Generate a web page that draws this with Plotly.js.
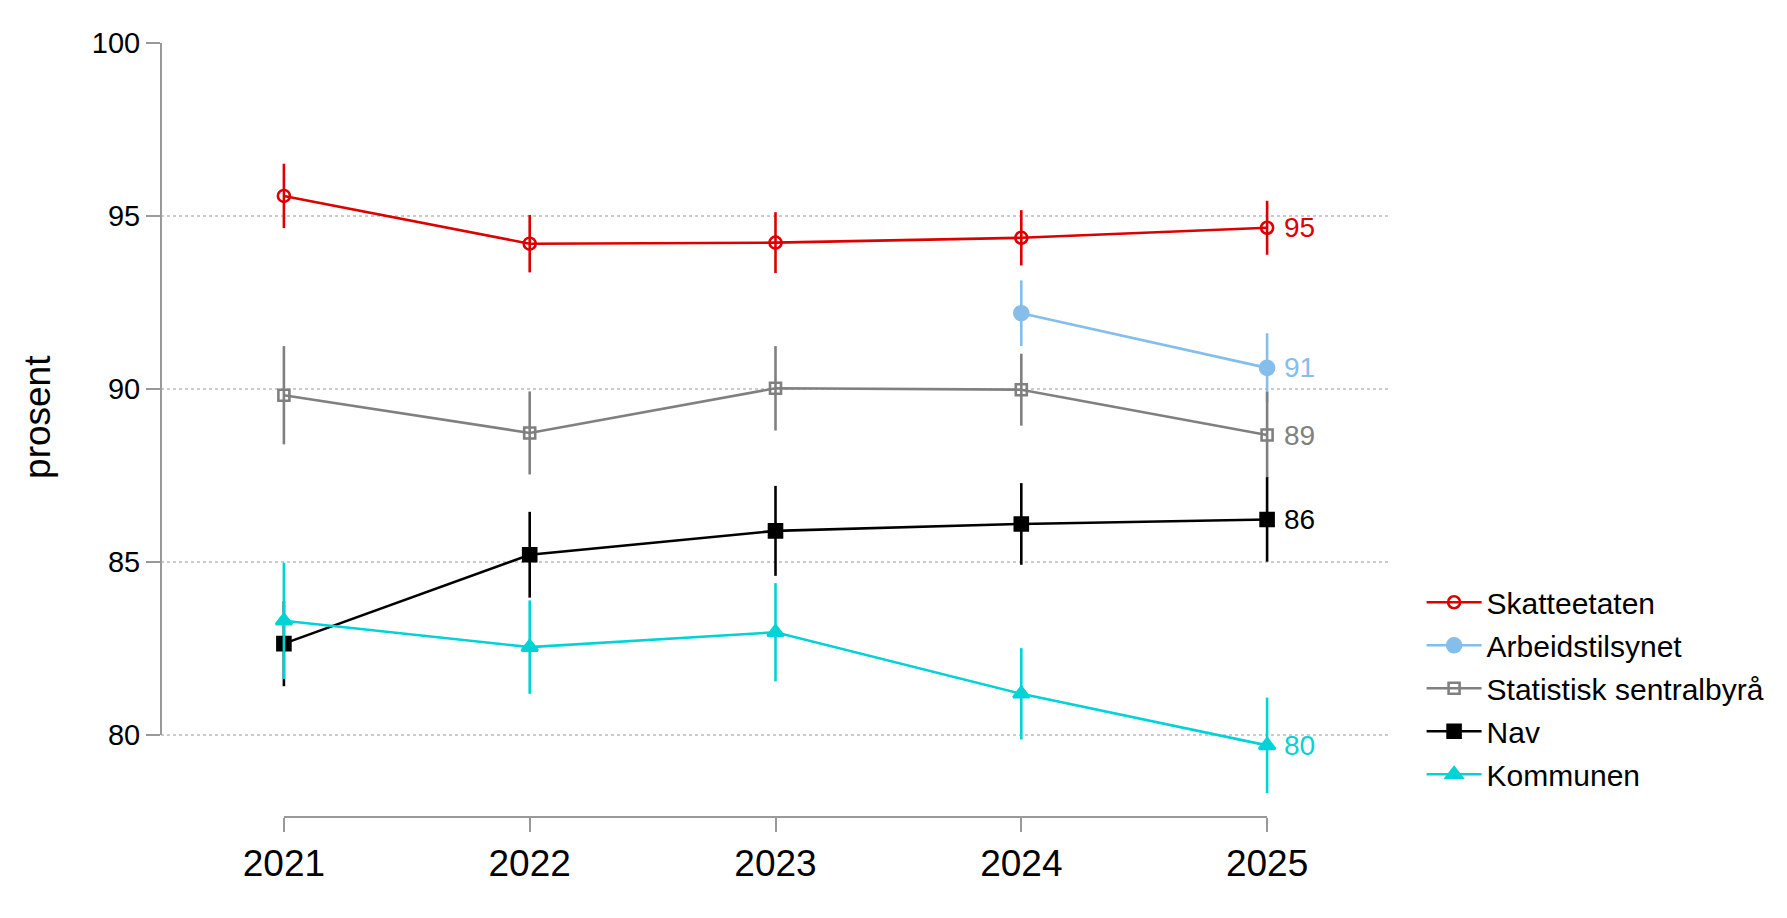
<!DOCTYPE html>
<html>
<head>
<meta charset="utf-8">
<script src="https://cdn.plot.ly/plotly-3.0.1.min.js"></script>
<style>html,body{margin:0;padding:0;background:#fff;}#chart{width:1787px;height:918px;}</style>
</head>
<body>
<div id="chart"></div>
<script>
const years = [2021, 2022, 2023, 2024, 2025];
const seriesNames = ["Skatteetaten", "Arbeidstilsynet", "Statistisk sentralbyrå", "Nav", "Kommunen"];
const skatteetaten = [95.58, 94.20, 94.23, 94.37, 94.66];
const skatteetatenErr = [0.93, 0.83, 0.88, 0.80, 0.78];
const arbeidstilsynet = [null, null, null, 92.19, 90.61];
const arbeidstilsynetErr = [null, null, null, 0.95, 1.00];
const ssb = [89.82, 88.73, 90.02, 89.98, 88.67];
const ssbErr = [1.42, 1.20, 1.22, 1.04, 1.25];
const nav = [82.64, 85.21, 85.90, 86.10, 86.23];
const navErr = [1.23, 1.24, 1.30, 1.18, 1.22];
const kommunen = [83.30, 82.54, 82.97, 81.19, 79.70];
const kommunenErr = [1.68, 1.35, 1.42, 1.32, 1.38];
const yTicks = [80, 85, 90, 95, 100];
const gridValues = [80, 85, 90, 95];

const colors = ["#DD0000", "#85BDEB", "#808080", "#000000", "#00D3D6"];
const symbols = ["circle-open", "circle", "square-open", "square", "triangle-up"];
const sizes = [12, 14, 11, 13, 14];
const values = [skatteetaten, arbeidstilsynet, ssb, nav, kommunen];
const errs = [skatteetatenErr, arbeidstilsynetErr, ssbErr, navErr, kommunenErr];

const FONT = "Liberation Sans, Arial, sans-serif";

const traces = seriesNames.map((name, i) => ({
  type: "scatter",
  mode: "lines+markers",
  name: name,
  legendgroup: "g" + i,
  x: years,
  y: values[i],
  connectgaps: false,
  line: {color: colors[i], width: 2.6},
  marker: {symbol: symbols[i], size: sizes[i], color: colors[i], line: {color: colors[i], width: 2.6}},
  error_y: {type: "data", array: errs[i], visible: true, color: colors[i], thickness: 2.6, width: 0}
}));

const annotations = seriesNames.map((name, i) => {
  const v = values[i];
  const last = v[v.length - 1];
  return {
    x: years[years.length - 1], y: last, xref: "x", yref: "y",
    text: String(Math.round(last)), showarrow: false,
    xanchor: "left", yanchor: "middle", xshift: 15,
    font: {family: FONT, size: 28, color: colors[i]}
  };
});
annotations.push({
  xref: "paper", yref: "paper", x: -0.1, y: 0.517, xanchor: "center", yanchor: "middle",
  text: "prosent", textangle: -90, showarrow: false,
  font: {family: FONT, size: 37, color: "#000"}
});

const shapes = gridValues.map(g => ({
  type: "line", xref: "paper", yref: "y", x0: 0, x1: 1, y0: g, y1: g,
  line: {color: "#BBBBBB", width: 1.5, dash: "dot"}, layer: "below"
}));
shapes.push({type: "line", xref: "paper", yref: "y", x0: 0, x1: 0, y0: yTicks[0], y1: yTicks[yTicks.length - 1],
  line: {color: "#999999", width: 2}});
shapes.push({type: "line", xref: "x", yref: "paper", x0: years[0], x1: years[years.length - 1], y0: 0, y1: 0,
  line: {color: "#999999", width: 2}});

const layout = {
  width: 1787, height: 918,
  margin: {l: 161, r: 397, t: 43, b: 101},
  paper_bgcolor: "#fff", plot_bgcolor: "#fff",
  font: {family: FONT, color: "#000"},
  showlegend: true,
  legend: {
    x: 1.0257, xanchor: "left", y: 0.311, yanchor: "top",
    font: {family: FONT, size: 30, color: "#000"},
    itemwidth: 55, tracegroupgap: 1, bgcolor: "rgba(0,0,0,0)"
  },
  xaxis: {
    range: [2020.5, 2025.5], tickvals: years, ticktext: years.map(String),
    showgrid: false, zeroline: false, showline: false,
    ticks: "outside", ticklen: 14, tickwidth: 2, tickcolor: "#999999",
    tickfont: {family: FONT, size: 37, color: "#000"}
  },
  yaxis: {
    range: [77.63, 100], tickvals: yTicks, ticktext: yTicks.map(String),
    showgrid: false, zeroline: false, showline: false,
    ticks: "outside", ticklen: 14, tickwidth: 2, tickcolor: "#999999",
    tickfont: {family: FONT, size: 29, color: "#000"}
  },
  shapes: shapes,
  annotations: annotations
};

Plotly.newPlot("chart", traces, layout, {displayModeBar: false, staticPlot: true});
</script>
</body>
</html>
